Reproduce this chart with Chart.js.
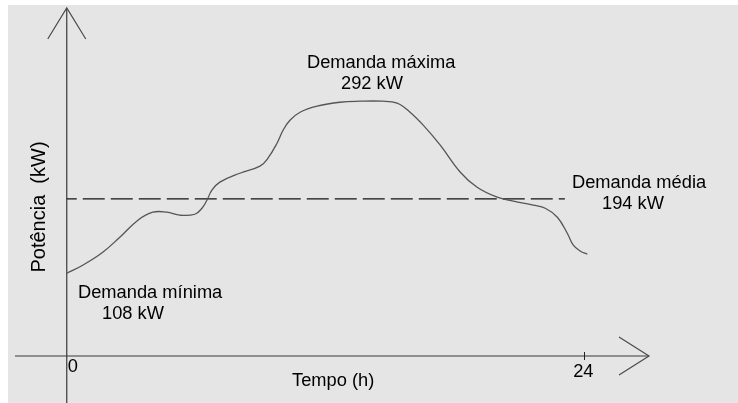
<!DOCTYPE html>
<html>
<head>
<meta charset="utf-8">
<script src="https://cdn.jsdelivr.net/npm/chart.js@4.4.1/dist/chart.umd.min.js"></script>
<style>
  html, body { margin: 0; padding: 0; background: #ffffff; }
  #wrap { width: 738px; height: 403px; }
</style>
</head>
<body>
<div id="wrap"><canvas id="loadChart" width="738" height="403"></canvas></div>
<script>
// load curve (hours, kW)
var hours = [0, 0.74, 1.67, 2.46, 3.30, 3.99, 4.64, 5.25, 5.94, 6.27, 6.50, 6.73, 7.10, 8.03, 8.96,
    9.33, 9.75, 10.03, 10.35, 10.82, 11.61, 12.67, 13.60, 14.62, 15.32, 15.92, 16.53, 17.32, 18.25,
    19.03, 19.96, 20.71, 21.63, 22.19, 22.75, 23.21, 23.49, 23.82, 24.14];
var power = [108, 116.5, 130.3, 146.3, 164.4, 172.9, 172.9, 169.7, 170.7, 177.1, 185.6, 196.3, 204.8, 214.3, 221.8,
    230.3, 246.2, 260.0, 270.7, 279.2, 285.6, 289.8, 290.9, 290.9, 288.8, 279.2, 265.4, 244.1, 215.4,
    199.4, 188.8, 184.6, 180.3, 177.1, 167.5, 150.5, 137.8, 131.4, 128.2];

// average demand line
var avgHours = [0, 23.1];
var avgPower = [187, 187];

var xTicks = [0, 24];
var xAxisLevel = 20;

var labels = {
    max: ["Demanda máxima", "292 kW"],
    avg: ["Demanda média", "194 kW"],
    min: ["Demanda mínima", "108 kW"],
    xTitle: "Tempo (h)",
    yTitle: "Potência  (kW)"
};

function toPoints(xs, ys) {
    var pts = [];
    for (var i = 0; i < xs.length; i++) {
        pts.push({ x: xs[i], y: ys[i] });
    }
    return pts;
}

var FONT = '18.3px "Liberation Sans", Arial, sans-serif';

var sketchPlugin = {
    id: 'sketch',
    beforeDraw: function (chart) {
        var ctx = chart.ctx;
        ctx.save();
        ctx.fillStyle = '#ffffff';
        ctx.fillRect(0, 0, chart.width, chart.height);
        ctx.fillStyle = '#e5e5e5';
        ctx.fillRect(8, 5, chart.width - 8, chart.height - 5);
        ctx.restore();
    },
    beforeDatasetsDraw: function (chart) {
        var ctx = chart.ctx;
        var xs = chart.scales.x, ys = chart.scales.y;
        var x0 = xs.getPixelForValue(0);
        var yAx = ys.getPixelForValue(xAxisLevel);
        var yTop = ys.getPixelForValue(ys.max);
        var xRight = xs.getPixelForValue(xs.max);
        ctx.save();
        ctx.strokeStyle = '#3a3a3a';
        ctx.lineWidth = 1.2;
        // vertical axis
        ctx.beginPath();
        ctx.moveTo(x0, yTop);
        ctx.lineTo(x0, chart.height);
        ctx.stroke();
        // horizontal axis
        ctx.beginPath();
        ctx.moveTo(xs.getPixelForValue(xs.min), yAx);
        ctx.lineTo(xRight, yAx);
        ctx.stroke();
        // arrow heads
        ctx.strokeStyle = '#4a4a4a';
        ctx.beginPath();
        ctx.moveTo(x0 - 19, yTop + 31);
        ctx.lineTo(x0, yTop);
        ctx.lineTo(x0 + 19, yTop + 31);
        ctx.stroke();
        ctx.beginPath();
        ctx.moveTo(xRight - 30, yAx - 19);
        ctx.lineTo(xRight, yAx);
        ctx.lineTo(xRight - 30, yAx + 19);
        ctx.stroke();
        // tick at 24
        ctx.strokeStyle = '#222';
        ctx.lineWidth = 1;
        var xt = Math.round(xs.getPixelForValue(xTicks[1])) + 0.5;
        ctx.beginPath();
        ctx.moveTo(xt, yAx - 4);
        ctx.lineTo(xt, yAx + 4);
        ctx.stroke();
        ctx.restore();
    },
    afterDatasetsDraw: function (chart) {
        var ctx = chart.ctx;
        var xs = chart.scales.x;
        ctx.save();
        ctx.fillStyle = '#000';
        ctx.font = FONT;
        ctx.textBaseline = 'alphabetic';
        ctx.textAlign = 'left';
        ctx.fillText(labels.max[0], 307, 68);
        ctx.fillText(labels.max[1], 341, 89);
        ctx.fillText(labels.avg[0], 572, 188);
        ctx.fillText(labels.avg[1], 602, 209);
        ctx.fillText(labels.min[0], 78, 298);
        ctx.fillText(labels.min[1], 102, 319);
        ctx.fillText(String(xTicks[0]), xs.getPixelForValue(xTicks[0]) + 1, 372);
        ctx.textAlign = 'center';
        ctx.fillText(String(xTicks[1]), xs.getPixelForValue(xTicks[1]) - 1, 377);
        ctx.textAlign = 'left';
        ctx.fillText(labels.xTitle, 292, 386);
        // rotated y title
        ctx.font = '20px "Liberation Sans", Arial, sans-serif';
        ctx.translate(39, 207);
        ctx.rotate(-Math.PI / 2);
        ctx.textAlign = 'center';
        ctx.textBaseline = 'middle';
        ctx.fillText(labels.yTitle, 0, 0);
        ctx.restore();
    }
};

var canvas = document.getElementById("loadChart");
var loadChart = new Chart(canvas, {
    type: 'scatter',
    data: {
        datasets: [{
            label: 'Demanda',
            data: toPoints(hours, power),
            showLine: true,
            borderColor: '#555555',
            borderWidth: 1.3,
            pointRadius: 0,
            tension: 0.4,
            fill: false
        }, {
            label: 'Demanda média',
            data: toPoints(avgHours, avgPower),
            showLine: true,
            borderColor: '#111111',
            borderWidth: 1.2,
            borderDash: [22, 6],
            borderDashOffset: 12,
            pointRadius: 0,
            fill: false
        }]
    },
    options: {
        responsive: false,
        animation: false,
        layout: {
            padding: { left: 15, right: 89, top: 8, bottom: 0 }
        },
        plugins: {
            legend: { display: false },
            tooltip: { enabled: false }
        },
        scales: {
            x: { type: 'linear', display: false, min: -2.4, max: 27 },
            y: { type: 'linear', display: false, min: -30, max: 390 }
        }
    },
    plugins: [sketchPlugin]
});
</script>
</body>
</html>
